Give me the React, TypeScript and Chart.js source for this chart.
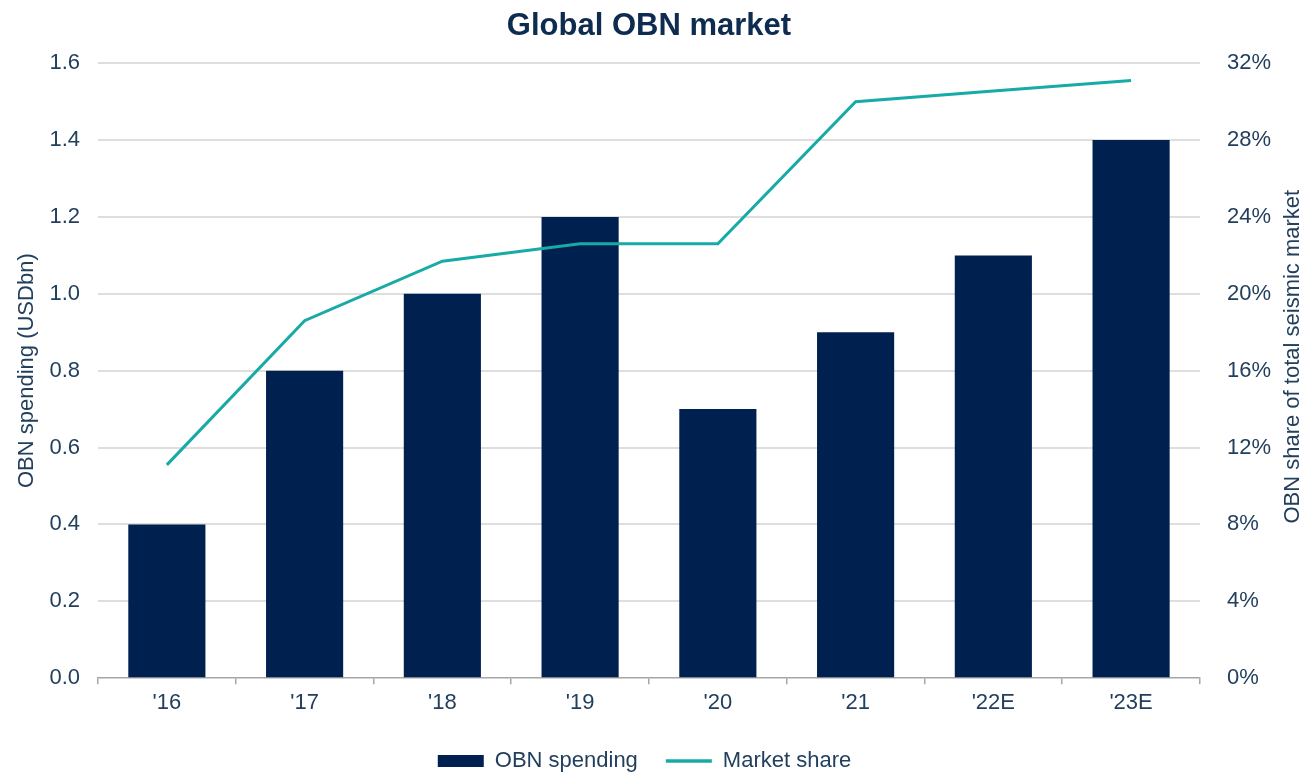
import React, { useEffect, useRef } from "react";
import { Chart, registerables } from "chart.js";

Chart.register(...registerables);

const categories = ["'16", "'17", "'18", "'19", "'20", "'21", "'22E", "'23E"];
const obnSpending = [0.4, 0.8, 1.0, 1.2, 0.7, 0.9, 1.1, 1.4];
const marketShare = [11.1, 18.6, 21.7, 22.6, 22.6, 30.0, 30.55, 31.1];
const leftTicksMax = 1.6;
const rightTicksMax = 32;
const rightAxisTitle = "OBN share of total seismic market";

const NAVY = "#002150";
const TEAL = "#17aaa6";
const TEXT = "#223f5e";
const FONT = "'Liberation Sans', Arial, sans-serif";

const rightTitlePlugin = {
  id: "rightTitle",
  afterDraw(chart: any) {
    const { ctx, chartArea } = chart;
    ctx.save();
    ctx.fillStyle = TEXT;
    ctx.font = `22px ${FONT}`;
    ctx.textAlign = "center";
    ctx.textBaseline = "middle";
    ctx.translate(chart.width - 21, (chartArea.top + chartArea.bottom) / 2 - 14);
    ctx.rotate(-Math.PI / 2);
    ctx.fillText(rightAxisTitle, 0, 0);
    ctx.restore();
  },
};

export default function App() {
  const ref = useRef<HTMLCanvasElement | null>(null);

  useEffect(() => {
    if (!ref.current) return;
    const chart = new Chart(ref.current, {
      type: "bar",
      data: {
        labels: categories,
        datasets: [
          {
            type: "line",
            label: "Market share",
            data: marketShare,
            yAxisID: "y1",
            borderColor: TEAL,
            backgroundColor: TEAL,
            borderWidth: 3,
            pointRadius: 0,
            tension: 0,
          } as any,
          {
            type: "bar",
            label: "OBN spending",
            data: obnSpending,
            yAxisID: "y",
            backgroundColor: NAVY,
            borderWidth: 0,
            categoryPercentage: 1,
            barPercentage: 0.56,
          } as any,
        ],
      },
      plugins: [rightTitlePlugin],
      options: {
        responsive: false,
        animation: false,
        layout: { padding: { left: 14, right: 39, top: 0, bottom: -8 } },
        plugins: {
          title: {
            display: true,
            fullSize: false,
            text: "Global OBN market",
            color: "#0d2c4f",
            font: { family: FONT, size: 31, weight: "bold" },
            padding: { top: 8, bottom: 18 },
          },
          legend: {
            position: "bottom",
            reverse: true,
            labels: {
              color: TEXT,
              font: { family: FONT, size: 22 },
              usePointStyle: true,
              pointStyleWidth: 46,
              boxHeight: 12,
              padding: 28,
              generateLabels: (c: any) => {
                const items = (Chart.defaults.plugins.legend.labels as any).generateLabels(c);
                return items.map((it: any) => ({
                  ...it,
                  pointStyle: it.datasetIndex === 0 ? "line" : "rect",
                  lineWidth: it.datasetIndex === 0 ? 3.5 : 0,
                }));
              },
            },
          },
          tooltip: { enabled: false },
        },
        scales: {
          x: {
            grid: {
              display: true,
              drawOnChartArea: false,
              drawTicks: true,
              tickLength: 6,
              offset: true,
              color: "#a6a6a6",
              lineWidth: 1.5,
            },
            border: { display: true, color: "#a6a6a6", width: 1.5 },
            ticks: { color: TEXT, font: { family: FONT, size: 22, lineHeight: 1.72 }, padding: 0 },
          },
          y: {
            position: "left",
            min: 0,
            max: leftTicksMax,
            ticks: {
              stepSize: 0.2,
              color: TEXT,
              font: { family: FONT, size: 22 },
              padding: 4,
              callback: (v: any) => Number(v).toFixed(1),
            },
            grid: {
              drawTicks: true,
              tickLength: 14,
              tickColor: "rgba(0,0,0,0)",
              color: (ctx: any) => (ctx.tick && ctx.tick.value === 0 ? "rgba(0,0,0,0)" : "#dedede"),
              lineWidth: 2,
            },
            border: { display: false },
            title: {
              display: true,
              text: "OBN spending (USDbn)",
              color: TEXT,
              font: { family: FONT, size: 22 },
              padding: { top: 0, bottom: 5 },
            },
          },
          y1: {
            position: "right",
            min: 0,
            max: rightTicksMax,
            ticks: {
              stepSize: 4,
              color: TEXT,
              font: { family: FONT, size: 22 },
              padding: 4,
              callback: (v: any) => `${v}%`,
            },
            grid: {
              drawOnChartArea: false,
              drawTicks: true,
              tickLength: 23,
              tickColor: "rgba(0,0,0,0)",
            },
            border: { display: false },
          },
        },
      },
    });
    return () => chart.destroy();
  }, []);

  return (
    <div style={{ position: "fixed", left: 0, top: 0, width: 1314, height: 774, background: "#fff" }}>
      <canvas ref={ref} width={1314} height={774} />
    </div>
  );
}
